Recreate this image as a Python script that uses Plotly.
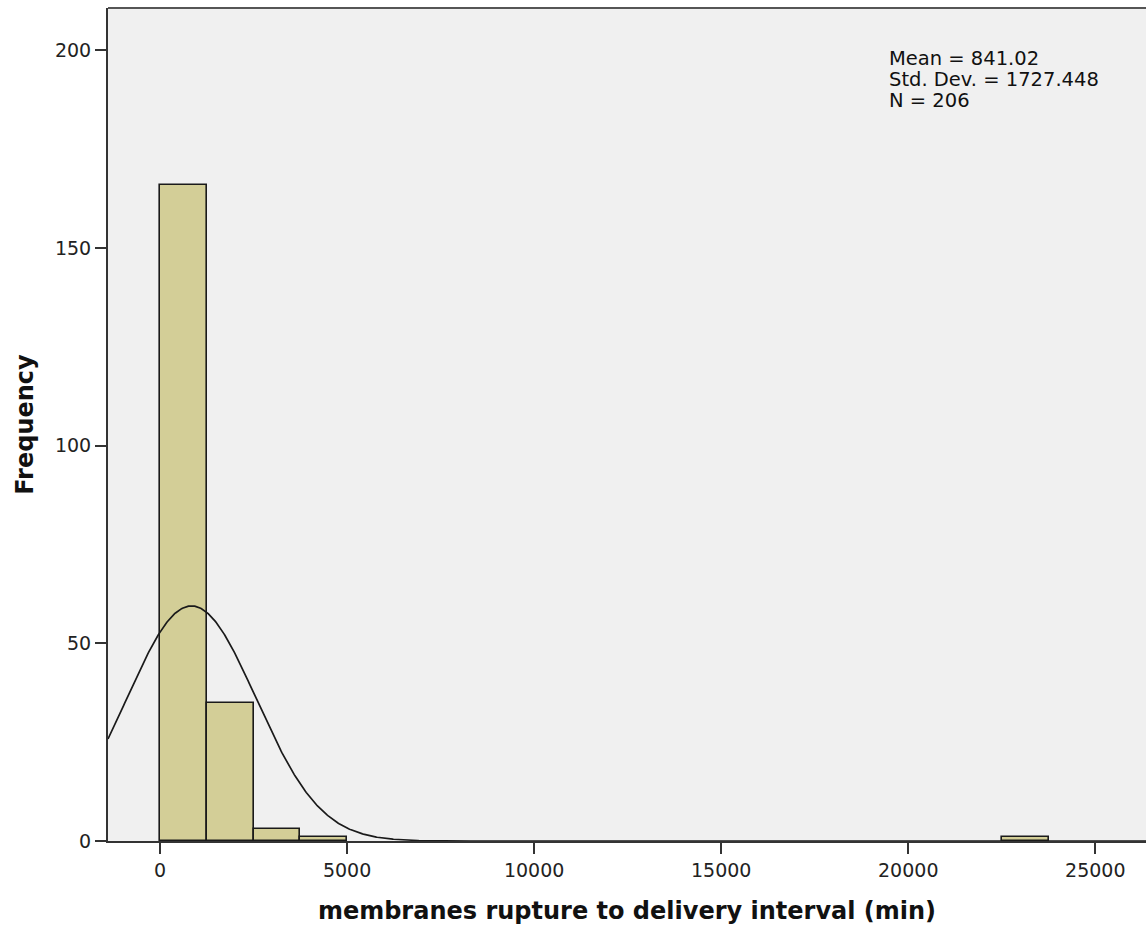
import numpy as np
import plotly.graph_objects as go

# ---- data ----
bin_left = [0, 1250, 2500, 3750, 22500]
counts = [166, 35, 3, 1, 1]
bin_width = 1250
mean_val = 841.02
std_val = 1727.448
n_val = 206
x_ticks = [0, 5000, 10000, 15000, 20000, 25000]
y_ticks = [0, 50, 100, 150, 200]
stats_lines = ["Mean = 841.02", "Std. Dev. = 1727.448", "N = 206"]
x_title = "membranes rupture to delivery interval (min)"
y_title = "Frequency"

X_RANGE = [-1390, 26355]
Y_RANGE = [0, 210.7]

FONT = "DejaVu Sans"

fig = go.Figure()
fig.add_trace(go.Bar(
    x=bin_left, y=counts, width=bin_width, offset=0,
    marker=dict(color="#D3CE97", line=dict(color="#1a1a1a", width=1.6)),
    hoverinfo="skip", showlegend=False,
))

# normal curve from the reported statistics
xs = np.linspace(X_RANGE[0], X_RANGE[1], 1200)
ys = n_val * bin_width / (std_val * np.sqrt(2 * np.pi)) * np.exp(-0.5 * ((xs - mean_val) / std_val) ** 2)
fig.add_trace(go.Scatter(x=xs, y=ys, mode="lines", line=dict(color="#1a1a1a", width=1.7),
                         hoverinfo="skip", showlegend=False))

ann_y = [197.85, 192.6, 187.2]
for txt, yy in zip(stats_lines, ann_y):
    fig.add_annotation(x=19440, y=yy, xref="x", yref="y", text=txt, showarrow=False,
                       xanchor="left", yanchor="middle", font=dict(family=FONT, size=19.5, color="#111"))

# top frame line
fig.add_shape(type="line", xref="paper", yref="paper", x0=0, x1=1, y0=1, y1=1,
              line=dict(color="#555555", width=2))

fig.update_layout(
    width=1146, height=931,
    margin=dict(l=108, r=0, t=8, b=90),
    paper_bgcolor="white", plot_bgcolor="#F0F0F0",
    bargap=0,
    font=dict(family=FONT, color="#222"),
)
fig.update_xaxes(
    range=X_RANGE, tickvals=x_ticks, ticktext=[str(v) for v in x_ticks],
    showgrid=False, zeroline=False, showline=True, linecolor="#333", linewidth=2,
    ticks="outside", ticklen=11, tickwidth=2, tickcolor="#333",
    tickfont=dict(family=FONT, size=19, color="#222"),
    title=dict(text="<b>" + x_title + "</b>", font=dict(family=FONT, size=24, color="#111"), standoff=22),
)
fig.update_yaxes(
    range=Y_RANGE, tickvals=y_ticks, ticktext=[str(v) for v in y_ticks],
    showgrid=False, zeroline=False, showline=True, linecolor="#333", linewidth=2,
    ticks="outside", ticklen=11, tickwidth=2, tickcolor="#333",
    tickfont=dict(family=FONT, size=19, color="#222"),
    title=dict(text="<b>" + y_title + "</b>", font=dict(family=FONT, size=24, color="#111"), standoff=15),
)

fig.write_html("out.html", config={"displayModeBar": False},
               post_script="document.body.style.margin='0';")
